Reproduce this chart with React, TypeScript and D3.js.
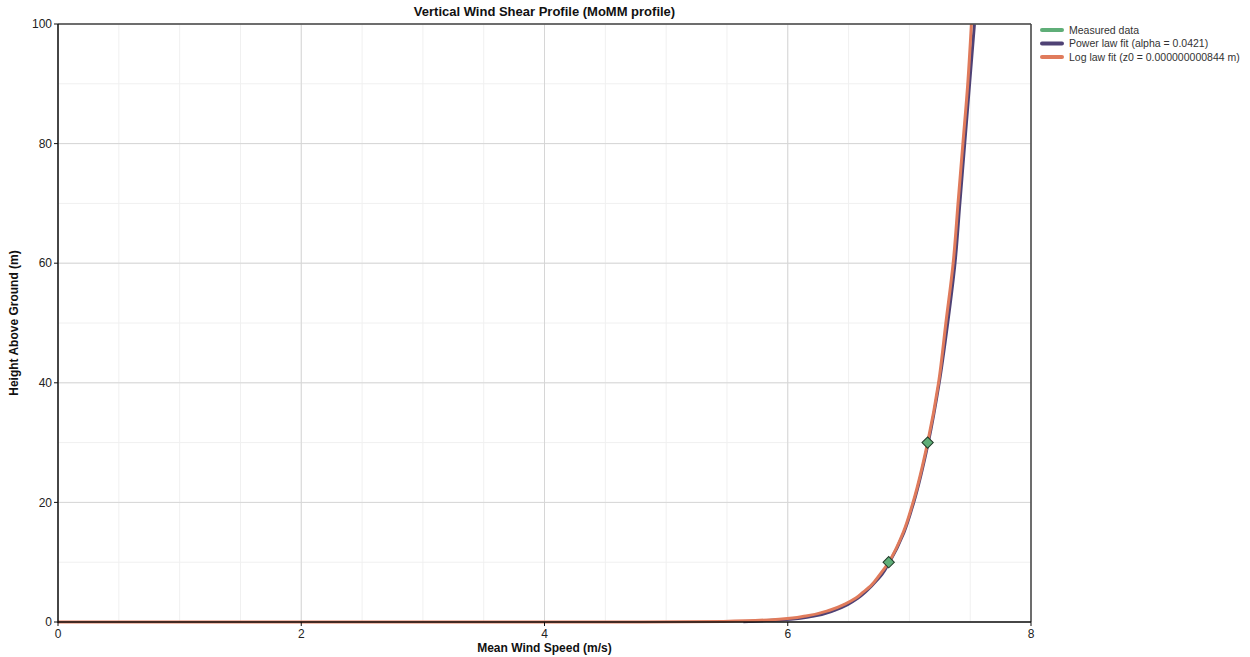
import React from "react";
import * as d3 from "d3";

// measured mean wind speed (m/s) at height (m)
const measuredHeights = [10, 30];
const measuredSpeeds = [6.83, 7.15];

// power law fit (alpha = 0.0421)
const powerHeights = [0.1, 0.5, 1, 2, 3, 4, 5, 6, 8, 10, 15, 20, 30, 40, 50, 60, 70, 80, 90, 100];
const powerSpeeds = [5.63, 6.02, 6.2, 6.38, 6.49, 6.57, 6.63, 6.68, 6.77, 6.83, 6.95, 7.03, 7.15, 7.24, 7.31, 7.37, 7.41, 7.45, 7.49, 7.53];

// log law fit (z0 = 0.000000000844 m)
const logHeights = [0, 0.01, 0.1, 0.5, 1, 2, 3, 4, 5, 6, 8, 10, 15, 20, 30, 40, 50, 60, 70, 80, 90, 100];
const logSpeeds = [0, 4.8, 5.47, 5.95, 6.15, 6.35, 6.47, 6.56, 6.62, 6.68, 6.76, 6.83, 6.95, 7.03, 7.15, 7.24, 7.3, 7.36, 7.4, 7.44, 7.48, 7.51];

const xTicks = [0, 2, 4, 6, 8];
const yTicks = [0, 20, 40, 60, 80, 100];

const LEGEND = [
  { label: "Measured data", color: "#5fae78" },
  { label: "Power law fit (alpha = 0.0421)", color: "#4f4275" },
  { label: "Log law fit (z0 = 0.000000000844 m)", color: "#e07b5c" },
];

const FONT = "'Liberation Sans', Arial, sans-serif";

export default function App() {
  const width = 1250;
  const height = 657;
  const margin = { top: 24, right: 219, bottom: 35, left: 58 };
  const w = width - margin.left - margin.right;
  const h = height - margin.top - margin.bottom;

  const x = d3.scaleLinear().domain([0, 8]).range([0, w]);
  const y = d3.scaleLinear().domain([0, 100]).range([h, 0]);

  const line = d3
    .line<[number, number]>()
    .x((d) => x(d[0]))
    .y((d) => y(d[1]))
    .curve(d3.curveMonotoneY);

  const powerPts = powerHeights.map((z, i) => [powerSpeeds[i], z] as [number, number]);
  const logPts = logHeights.map((z, i) => [logSpeeds[i], z] as [number, number]);

  const xMinor = d3.range(0, 8.01, 0.5);
  const yMinor = d3.range(0, 100.1, 10);

  return (
    <div style={{ position: "fixed", left: 0, top: 0 }}>
      <svg width={width} height={height} style={{ display: "block", background: "#fff" }}>
        <text x={margin.left + w / 2} y={16} textAnchor="middle" fontFamily={FONT} fontWeight="bold" fontSize={13} fill="#111">
          Vertical Wind Shear Profile (MoMM profile)
        </text>
        <g transform={`translate(${margin.left},${margin.top})`}>
          {/* minor grid */}
          {xMinor.map((t) => (
            <line key={`xm${t}`} x1={x(t)} x2={x(t)} y1={0} y2={h} stroke="#f0f0f0" />
          ))}
          {yMinor.map((t) => (
            <line key={`ym${t}`} x1={0} x2={w} y1={y(t)} y2={y(t)} stroke="#f0f0f0" />
          ))}
          {/* major grid */}
          {xTicks.map((t) => (
            <line key={`xg${t}`} x1={x(t)} x2={x(t)} y1={0} y2={h} stroke="#d6d6d6" />
          ))}
          {yTicks.map((t) => (
            <line key={`yg${t}`} x1={0} x2={w} y1={y(t)} y2={y(t)} stroke="#d6d6d6" />
          ))}

          {/* curves */}
          <path d={line(powerPts) || ""} fill="none" stroke={LEGEND[1].color} strokeWidth={3} transform="translate(0.6,0.3)" />
          <path d={line(logPts) || ""} fill="none" stroke={LEGEND[2].color} strokeWidth={3} />

          {/* measured points */}
          {measuredHeights.map((z, i) => (
            <rect
              key={z}
              x={-4}
              y={-4}
              width={8}
              height={8}
              fill={LEGEND[0].color}
              stroke="#1f3a28"
              strokeWidth={1}
              transform={`translate(${x(measuredSpeeds[i])},${y(z)}) rotate(45)`}
            />
          ))}

          {/* frame */}
          <line x1={0} x2={w} y1={0} y2={0} stroke="#444" strokeWidth={1.5} />
          <line x1={w} x2={w} y1={0} y2={h} stroke="#444" strokeWidth={1.5} />
          <line x1={0} x2={0} y1={0} y2={h + 1} stroke="#111" strokeWidth={1.5} />
          <line x1={0} x2={w} y1={h} y2={h} stroke="#111" strokeWidth={1.5} />

          {/* axes ticks */}
          {xTicks.map((t) => (
            <g key={`xt${t}`} transform={`translate(${x(t)},${h})`}>
              <line y1={0} y2={4} stroke="#111" />
              <text y={16} textAnchor="middle" fontFamily={FONT} fontSize={12} fill="#222">
                {t}
              </text>
            </g>
          ))}
          {yTicks.map((t) => (
            <g key={`yt${t}`} transform={`translate(0,${y(t)})`}>
              <line x1={-4} x2={0} stroke="#111" />
              <text x={-6} dy="0.35em" textAnchor="end" fontFamily={FONT} fontSize={12} fill="#222">
                {t}
              </text>
            </g>
          ))}
        </g>

        <text x={margin.left + w / 2} y={652} textAnchor="middle" fontFamily={FONT} fontWeight="bold" fontSize={12} fill="#111">
          Mean Wind Speed (m/s)
        </text>
        <text
          transform={`translate(18,${margin.top + h / 2}) rotate(-90)`}
          textAnchor="middle"
          fontFamily={FONT}
          fontWeight="bold"
          fontSize={12}
          fill="#111"
        >
          Height Above Ground (m)
        </text>

        {/* legend */}
        <g transform="translate(1042,30)">
          {LEGEND.map((s, i) => (
            <g key={s.label} transform={`translate(0,${i * 13.5})`}>
              <line x1={0} x2={20} y1={0} y2={0} stroke={s.color} strokeWidth={4} strokeLinecap="round" />
              <text x={27} dy="0.35em" fontFamily={FONT} fontSize={10.5} fill="#333">
                {s.label}
              </text>
            </g>
          ))}
        </g>
      </svg>
    </div>
  );
}
